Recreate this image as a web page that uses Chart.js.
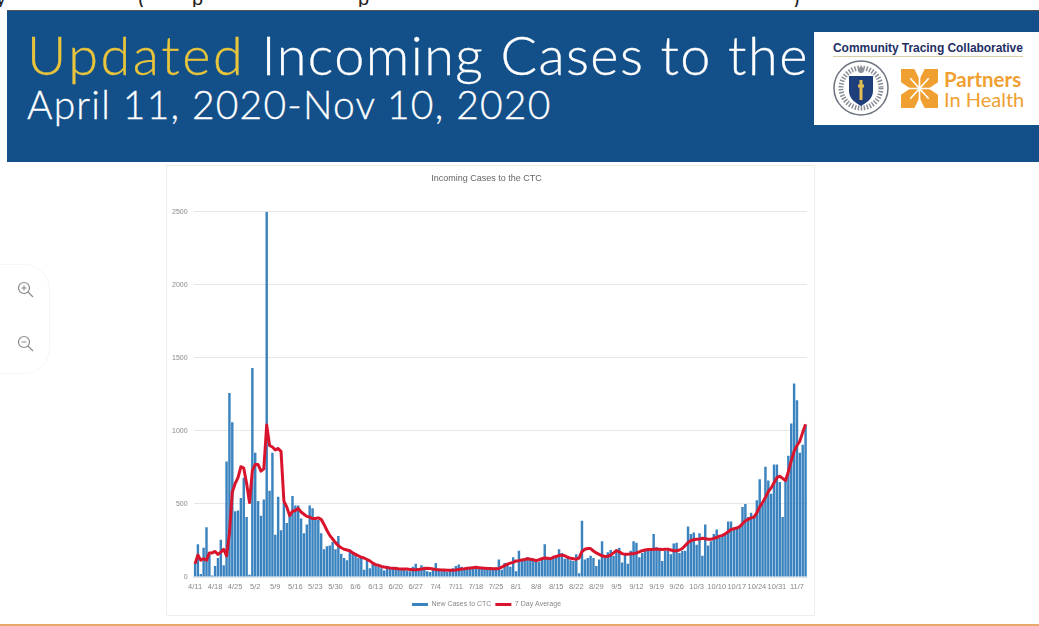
<!DOCTYPE html>
<html><head><meta charset="utf-8">
<script src="https://cdn.jsdelivr.net/npm/chart.js@4"></script>
<style>
html,body{margin:0;padding:0;background:#fff;width:1039px;height:626px;overflow:hidden;font-family:Lato,"Open Sans",sans-serif}
.abs{position:absolute}
#banner{left:7px;top:10px;width:1032px;height:152px;background:#135089;border-top:1px solid #555;box-sizing:border-box}
#t1{left:27px;top:22px;font-size:54px;font-weight:300;color:#fff;white-space:nowrap;letter-spacing:1.45px;-webkit-text-stroke:.3px #fff}
#t1 span{color:#e9c53c;-webkit-text-stroke:.3px #e9c53c;letter-spacing:2.6px}
#t2{left:27px;top:81px;font-size:39px;font-weight:300;color:#fff;white-space:nowrap;letter-spacing:1.2px;-webkit-text-stroke:.3px #fff}
#logo{left:814px;top:32px;width:225px;height:93px;background:#fff}
#ctc{left:19px;top:9px;font:bold 12px "Liberation Sans",sans-serif;color:#1f2f66;white-space:nowrap;letter-spacing:-.05px;border-bottom:1px solid #d8cfa8;padding-bottom:1px}
#pih1,#pih2{left:130px;font-size:20px;color:#f0a030;white-space:nowrap}
#pih1{top:35px;font-weight:700;font-size:20.500px}
#pih2{top:55px;font-weight:400}
#card{left:166px;top:165px;width:649px;height:451px;border:1px solid #eee;box-sizing:border-box}
#cv{position:absolute;left:166px;top:165px;width:649px;height:451px;filter:blur(.45px)}
#zoombox{left:-40px;top:264px;width:88px;height:108px;border:1px solid #f6f6f6;border-radius:26px;background:#fff}
#rule{left:0;top:624px;width:1039px;height:2px;background:#e8a869}
#cut{left:0;top:-13px;height:20px;width:1039px;overflow:hidden;font:20px "Liberation Sans",sans-serif;color:#222}
#cut span{position:absolute;top:0}
</style></head><body>
<div class="abs" id="cut"><span style="left:-4px">y</span><span style="left:138px">(</span><span style="left:192px">p</span><span style="left:358px">p</span><span style="left:793px">)</span></div>
<div class="abs" id="banner"></div>
<div class="abs" id="t1"><span>Updated</span> Incoming Cases to the</div>
<div class="abs" id="t2">April 11, 2020-Nov 10, 2020</div>
<div class="abs" id="logo">
 <div class="abs" id="ctc">Community Tracing Collaborative</div>
 <svg class="abs" style="left:18px;top:27px" width="58" height="58" viewBox="0 0 58 58">
  <circle cx="29" cy="29" r="27" fill="#fff" stroke="#6d7480" stroke-width="1.5"/>
  <circle cx="29" cy="29" r="20" fill="none" stroke="#8a8f98" stroke-width="5" stroke-dasharray="1.5 1.5"/>
  <path d="M17 17h24v15c0 8-7 12-12 15-5-3-12-7-12-15z" fill="#1f3f7c"/>
  <path d="M29 21v20M26 27h6" stroke="#e2bd50" stroke-width="3"/>
  <circle cx="29" cy="11" r="3" fill="#8a8f98"/>
 </svg>
 <svg class="abs" style="left:87px;top:37px" width="37" height="39" viewBox="0 0 36 38">
  <path d="M0 0h13l5 10 5-10h13v13l-9 6 9 6v13H23l-5-10-5 10H0V25l9-6-9-6z" fill="#f0a030"/>
  <path d="M9 9l18 20M27 9L9 29M18 6v26M5 19h26" stroke="#fff" stroke-width="1.6"/>
 </svg>
 <div class="abs" id="pih1">Partners</div>
 <div class="abs" id="pih2">In Health</div>
</div>
<div class="abs" id="card"></div>
<div class="abs" id="zoombox"></div>
<svg class="abs" style="left:15px;top:280px" width="20" height="74" viewBox="0 0 20 74" fill="none" stroke="#8a8a8a" stroke-width="1.200">
 <circle cx="9" cy="8" r="5.500"/><path d="M13 12l5 5M6.500 8h5M9 5.500v5"/>
 <circle cx="9" cy="62" r="5.500"/><path d="M13 66l5 5M6.500 62h5"/>
</svg>
<div class="abs" id="rule"></div>
<canvas id="cv" width="649" height="451"></canvas>
<script>
const weekLabels = ["4/11","4/18","4/25","5/2","5/9","5/16","5/23","5/30","6/6","6/13","6/20","6/27","7/4","7/11","7/18","7/25","8/1","8/8","8/15","8/22","8/29","9/5","9/12","9/19","9/26","10/3","10/10","10/17","10/24","10/31","11/7"];
const yTicks = [0,500,1000,1500,2000,2500];
const newCases = [
90,225,20,200,340,150,10,
75,130,255,80,790,1260,1060,
450,455,540,680,410,15,1430,
850,520,420,530,2500,590,850,
290,550,320,510,370,420,555,
490,490,400,300,360,490,470,
400,390,300,190,210,215,240,
190,280,160,130,115,180,170,
160,130,130,50,120,60,90,
75,70,60,45,70,60,55,
70,60,55,50,45,40,70,
90,45,80,70,40,35,50,
95,50,40,45,35,45,60,
75,85,70,55,60,65,70,
65,60,60,55,50,50,60,
65,120,50,95,85,70,135,
40,180,110,125,135,130,120,
110,105,130,225,130,120,130,
150,190,165,125,130,115,110,
155,25,385,120,130,145,130,
75,120,245,145,170,185,145,
190,200,100,155,90,180,245,
235,135,165,180,190,190,295,
205,190,110,180,180,155,230,
235,165,180,180,345,295,305,
220,300,145,360,215,245,295,
325,270,280,295,380,380,330,
340,340,480,500,410,440,420,
525,670,500,755,660,570,770,
770,650,410,680,830,1050,1325,
1210,850,905,1040];
const sevenDayAvg = [
90,150,115,125,115,165,165,
175,155,170,190,145,300,580,
640,680,755,745,640,510,730,
770,770,725,740,1040,900,890,
870,880,860,520,480,420,450,
455,470,445,430,415,410,400,
400,405,395,360,320,285,260,
235,215,200,190,185,180,165,
155,145,135,130,120,110,95,
85,80,72,68,65,62,60,
58,56,55,55,54,52,50,
50,52,54,58,60,58,55,
52,50,48,48,46,46,46,
48,52,55,56,60,62,64,
66,64,62,60,58,58,56,
56,58,68,78,88,95,100,
110,112,116,120,125,122,118,
112,118,125,130,128,125,135,
140,148,150,145,135,128,125,
122,130,175,190,195,195,178,
165,155,145,140,142,150,165,
180,172,160,155,155,160,160,
165,172,180,185,188,188,190,
190,190,188,190,190,185,180,
180,185,195,215,235,250,255,
258,260,265,262,258,258,265,
270,280,285,295,310,325,330,
335,345,365,385,395,405,410,
440,480,510,545,585,610,645,
680,690,675,660,720,795,860,
900,930,990,1045];
const categories = newCases.map((_, i) => i % 7 === 0 ? weekLabels[i / 7] : "");

new Chart(document.getElementById('cv'), {
  type: 'bar',
  data: { labels: categories, datasets: [
    { label: 'New Cases to CTC', data: newCases, backgroundColor: '#3a83bf', barPercentage: .85, categoryPercentage: 1, order: 2 },
    { type: 'line', label: '7 Day Average', data: sevenDayAvg, borderColor: '#d9152e', backgroundColor: '#d9152e', borderWidth: 3, borderJoinStyle: 'round', pointRadius: 0, tension: 0, order: 1 }
  ]},
  options: {
    responsive: false, animation: false, devicePixelRatio: 1,
    layout: { padding: { left: 0, right: 8, top: 0, bottom: -2 } },
    plugins: {
      title: { display: true, text: 'Incoming Cases to the CTC', color: '#666', font: { size: 9, weight: 'normal', family: 'Liberation Sans' }, padding: { top: 8, bottom: 28 } },
      legend: { position: 'bottom', labels: { color: '#888', font: { size: 7, family: 'Liberation Sans' }, boxWidth: 16, boxHeight: 3, padding: 4,
        sort: (a, b) => a.datasetIndex - b.datasetIndex,
        generateLabels: c => Chart.defaults.plugins.legend.labels.generateLabels(c).map(l => ({ ...l, lineWidth: 0 })) } },
      tooltip: { enabled: false }
    },
    scales: {
      x: { grid: { display: false, tickLength: 0 }, border: { color: '#e4e4e4' },
           ticks: { autoSkip: false, maxRotation: 0, minRotation: 0, color: '#888', font: { size: 7.5, family: 'Liberation Sans' }, padding: 5 },
           afterFit: s => { s.height = 20; } },
      y: { min: 0, max: 2500, afterBuildTicks: s => { s.ticks = yTicks.map(v => ({ value: v })); },
           grid: { color: '#e6e6e6', drawTicks: false }, border: { display: false },
           ticks: { color: '#888', font: { size: 7, family: 'Liberation Sans' }, padding: 6, callback: v => String(v) },
           afterFit: s => { s.width = 27.6; } }
    }
  }
});
</script>
</body></html>
